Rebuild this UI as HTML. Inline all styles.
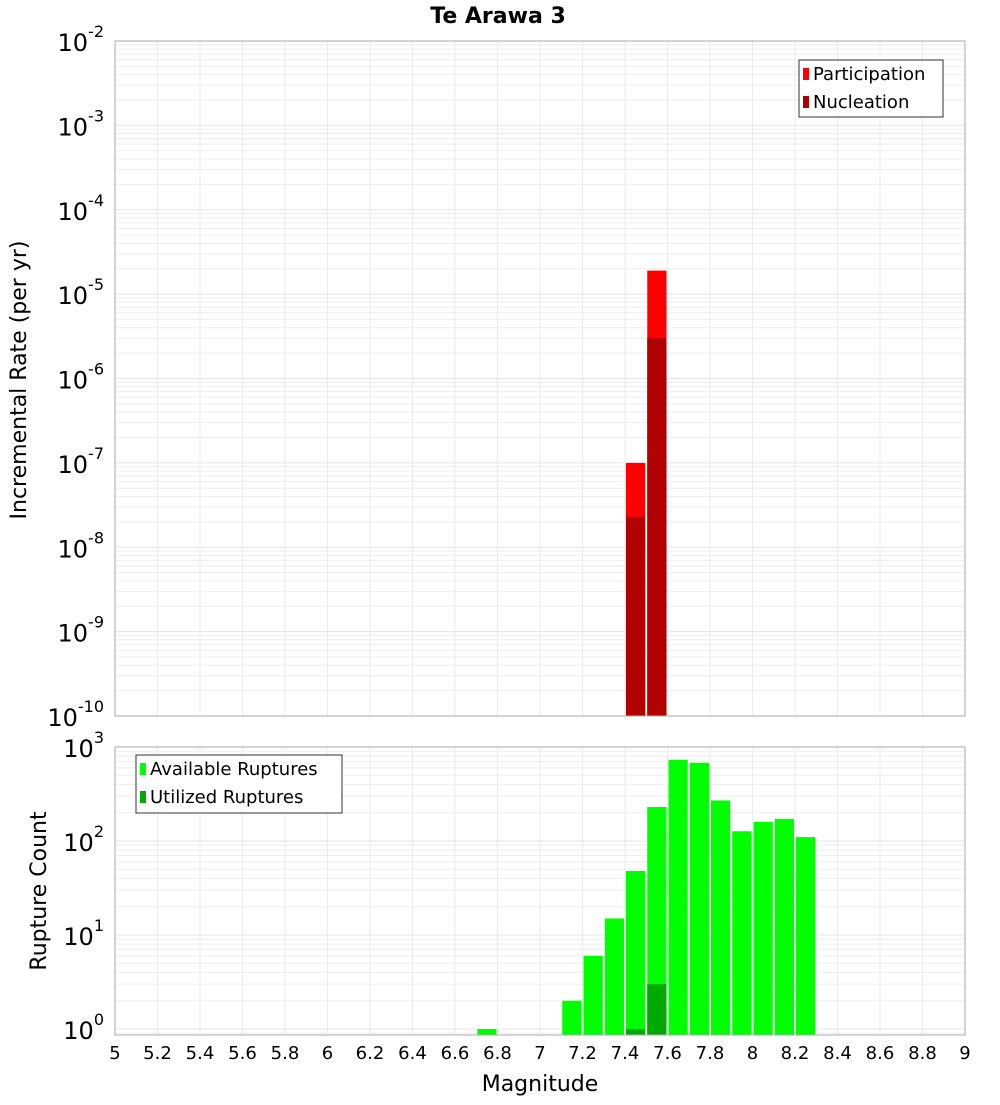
<!DOCTYPE html>
<html><head><meta charset="utf-8"><style>
body{margin:0;background:#fff;font-family:"Liberation Sans","DejaVu Sans",sans-serif}
</style></head><body>
<svg width="1000" height="1100" xmlns="http://www.w3.org/2000/svg" font-family="DejaVu Sans, Liberation Sans, sans-serif">
<g id="g"></g>
</svg>
<script>
const binCenters=[7.45,7.55];
const participation=[1e-7,1.9e-5];
const nucleation=[2.3e-8,3e-6];
const countCenters=[6.75,7.15,7.25,7.35,7.45,7.55,7.65,7.75,7.85,7.95,8.05,8.15,8.25];
const available=[1,2,6,15,48,230,730,680,270,127,160,172,110];
const utilCenters=[7.45,7.55];
const utilized=[1,3];
const xTicks=[5,5.2,5.4,5.6,5.8,6,6.2,6.4,6.6,6.8,7,7.2,7.4,7.6,7.8,8,8.2,8.4,8.6,8.8,9];
const topExps=[-10,-9,-8,-7,-6,-5,-4,-3,-2];
const botExps=[0,1,2,3];

const NS="http://www.w3.org/2000/svg";
const g=document.getElementById('g');
function el(t,a,p){const e=document.createElementNS(NS,t);for(const k in a)e.setAttribute(k,a[k]);(p||g).appendChild(e);return e;}
const L=115,R=965;
const X=v=>L+(v-5)/4*(R-L);
const T0=41,T1=716,Yt=v=>T1-(Math.log10(v)+10)/8*(T1-T0);
const B0=747,B1=1035,lb=-0.064,Yb=v=>B1-(Math.log10(v)-lb)/(3-lb)*(B1-B0);

function grid(top,bot,Y,e0,e1,lo){
  for(let e=e0;e<e1;e++)for(let m=1;m<10;m++){const v=m*Math.pow(10,e);if(Math.log10(v)<lo)continue;const y=Y(v);
    const l=el('line',{x1:L,x2:R,y1:y,y2:y,stroke:m==1?'#e4e4e4':'#eeeeee','stroke-width':1});
    }
  xTicks.forEach(t=>{const x=X(t);const l=el('line',{x1:x,x2:x,y1:top,y2:bot,stroke:'#ebebeb'});
    });
}
grid(T0,T1,Yt,-10,-2,-10);
grid(B0,B1,Yb,-1,3,lb);

function bar(c,v,Y,bot,col,name){const x0=X(c-0.05)+1,x1=X(c+0.05)-1,y=Y(v);
  const r=el('rect',{x:x0,y:y,width:x1-x0,height:bot-y,fill:col});
  }
binCenters.forEach((c,i)=>bar(c,participation[i],Yt,T1,'#ff0000','participation-bar'));
binCenters.forEach((c,i)=>bar(c,nucleation[i],Yt,T1,'#b00000','nucleation-bar'));
countCenters.forEach((c,i)=>bar(c,available[i],Yb,B1,'#00ff00','available-bar'));
utilCenters.forEach((c,i)=>bar(c,utilized[i],Yb,B1,'#00aa00','utilized-bar'));

[[T0,T1],[B0,B1]].forEach(([a,b])=>{const r=el('rect',{x:L,y:a,width:R-L,height:b-a,fill:'none',stroke:'#aaaaaa'});
  });

function ylab(y,e){const t=el('text',{x:104,y:y+10,'text-anchor':'end','font-size':24,fill:'#000'});
  
  t.textContent='10';const s=el('tspan',{dy:-14,'font-size':16},t);s.textContent=String(e);}
topExps.forEach(e=>ylab(Yt(Math.pow(10,e)),e));
botExps.forEach(e=>ylab(Yb(Math.pow(10,e)),e));

xTicks.forEach(t=>{const tx=el('text',{x:X(t),y:1059,'text-anchor':'middle','font-size':18});
  
  tx.textContent=String(t);});

function txt(s,a,name){const t=el('text',a);t.textContent=s;return t;}
txt('Te Arawa 3',{x:498,y:23,'text-anchor':'middle','font-size':22,'font-weight':'bold'},'chart-title');
txt('Magnitude',{x:540,y:1091,'text-anchor':'middle','font-size':22},'x-axis-title');
txt('Incremental Rate (per yr)',{x:26,y:380,'text-anchor':'middle','font-size':22,transform:'rotate(-90 26 380)'},'top-y-axis-title');
txt('Rupture Count',{x:46,y:891,'text-anchor':'middle','font-size':22,transform:'rotate(-90 46 891)'},'bottom-y-axis-title');

function legend(x,y,w,h,items,name){const r=el('rect',{x:x,y:y,width:w,height:h,fill:'#fff',stroke:'#333'});
  
  items.forEach(([lab,col],i)=>{const yy=y+14+i*28;
    const s=el('rect',{x:x+4,y:yy-6,width:6,height:12,fill:col});
    txt(lab,{x:x+14,y:yy+6,'font-size':18},'legend-entry');});}
legend(799,60,144,57,[['Participation','#ff0000'],['Nucleation','#b00000']],'top-legend');
legend(136,755,206,58,[['Available Ruptures','#00ff00'],['Utilized Ruptures','#00aa00']],'bottom-legend');
</script>
</body></html>
